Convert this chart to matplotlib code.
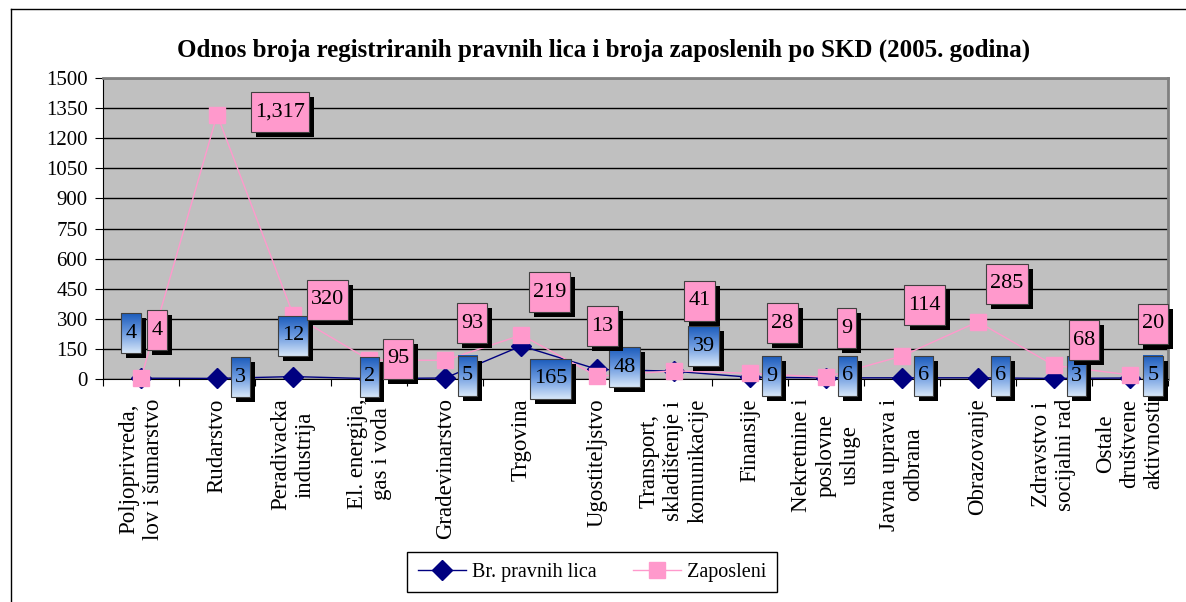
import numpy as np
import matplotlib
matplotlib.use("Agg")
import matplotlib.pyplot as plt
from matplotlib.patches import Rectangle
from matplotlib.lines import Line2D
from matplotlib.colors import LinearSegmentedColormap
from matplotlib.transforms import Bbox, TransformedBbox

plt.rcParams['font.family'] = ['Liberation Serif', 'DejaVu Serif']

naslov = "Odnos broja registriranih pravnih lica i broja zaposlenih po SKD (2005. godina)"
kategorije = ["Poljoprivreda,\nlov i šumarstvo", "Rudarstvo", "Peradivacka\nindustrija",
              "El. energija,\ngas i voda", "Gradevinarstvo", "Trgovina", "Ugostiteljstvo",
              "Transport,\nskladištenje i\nkomunikacije", "Finansije",
              "Nekretnine i\nposlovne\nusluge", "Javna uprava i\nodbrana", "Obrazovanje",
              "Zdravstvo i\nsocijalni rad", "Ostale\ndruštvene\naktivnosti"]
pravna_lica = [4, 3, 12, 2, 5, 165, 48, 39, 9, 6, 6, 6, 3, 5]
zaposleni = [4, 1317, 320, 95, 93, 219, 13, 41, 28, 9, 114, 285, 68, 20]
y_ticks = list(range(0, 1501, 150))

# where Excel put the data labels, pixels from the point (right, down)
off_pravna = [(-10, -45), (23, -1), (0, -41), (0, -2), (22, -2), (29, 33), (27, -2),
              (30, -25), (22, -1), (22, -2), (22, -2), (23, -2), (23, -2), (23, -2)]
off_zap = [(16, -48), (63, -3), (34, -15), (29, -1), (27, -37), (28, -43), (5, -50),
           (26, -70), (33, -50), (21, -49), (23, -51), (29, -38), (30, -25), (23, -51)]

W, H = 1186, 602
fig = plt.figure(figsize=(W / 100, H / 100), dpi=100)
ax = fig.add_axes([103 / W, 1 - 379 / H, 1065 / W, 301 / H])
ax.set_facecolor('#c0c0c0')

x = np.arange(len(kategorije))
ax.plot(x, pravna_lica, color='#000080', lw=1, marker='D', ms=10,
        label='Br. pravnih lica', zorder=3, clip_on=False)
ax.plot(x, zaposleni, color='#ff99cc', lw=1, marker='s', ms=11,
        label='Zaposleni', zorder=3.1, clip_on=False)

ax.set_xlim(-0.5, len(kategorije) - 0.5)
ax.set_ylim(0, 1500)
ax.set_yticks(y_ticks)
ax.yaxis.grid(True, color='black', lw=1)
ax.set_axisbelow(True)
ax.tick_params(axis='y', labelsize=15, length=6, pad=5)

ax.set_xticks(np.arange(-0.5, len(kategorije), 1))
ax.tick_params(axis='x', which='major', length=5, labelbottom=False)
ax.set_xticks(x, kategorije, minor=True)
ax.tick_params(axis='x', which='minor', length=0, pad=14, labelsize=16.5, labelrotation=90)
clip = TransformedBbox(Bbox([[0, 0], [1169 / W, 1]]), fig.transFigure)
for t in ax.get_xticklabels(minor=True):
    t.set_ha('center')
    t.set_va('top')
    t.set_multialignment('center')
    t.set_clip_box(clip)
    t.set_clip_on(True)

for s in ['left', 'bottom']:
    ax.spines[s].set_color('black')
for s in ['top', 'right']:
    ax.spines[s].set_color('#808080')
    ax.spines[s].set_linewidth(2)

fig.text(604 / W, 1 - 50 / H, naslov, ha='center', va='center',
         fontsize=18, fontweight='bold')

fig.add_artist(Line2D([10.5 / W, 10.5 / W], [0, 1 - 9 / H], color='black', lw=1))
fig.add_artist(Line2D([10.5 / W, 1], [1 - 9 / H, 1 - 9 / H], color='black', lw=1))

fig.legend(loc='center', bbox_to_anchor=(592 / W, 1 - 572 / H), ncol=2,
           fancybox=False, edgecolor='black', fontsize=14.5, handlelength=2.4,
           handletextpad=0.3, columnspacing=1.8, borderpad=0.5, framealpha=1)

# data labels: boxes with black shadow, drawn in pixels then mapped to data
fig.canvas.draw()
renderer = fig.canvas.get_renderer()
inv = ax.transData.inverted()
blues = LinearSegmentedColormap.from_list('b', ['#1c5cbc', '#6d9be0', '#d6e6f8'])
grad = np.linspace(0, 1, 64).reshape(-1, 1)


def data_label(i, v, text, off, z, face=None):
    px, py = ax.transData.transform((i, v))
    cx, cy = px + off[0], py - off[1]
    xd, yd = inv.transform((cx, cy))
    t = ax.text(xd, yd, text, ha='center', va='center', fontsize=16,
                zorder=z + 0.3, clip_on=False)
    w = t.get_window_extent(renderer).width + 8
    h = 40
    (x0, y0), (x1, y1) = inv.transform([(cx - w / 2, cy - h / 2), (cx + w / 2, cy + h / 2)])
    (sx0, sy0), (sx1, sy1) = inv.transform([(cx - w / 2 + 5, cy - h / 2 - 5),
                                            (cx + w / 2 + 5, cy + h / 2 - 5)])
    ax.add_patch(Rectangle((sx0, sy0), sx1 - sx0, sy1 - sy0, facecolor='black',
                           edgecolor='none', zorder=z, clip_on=False))
    if face is None:
        ax.imshow(grad, cmap=blues, extent=[x0, x1, y0, y1], aspect='auto',
                  interpolation='bilinear', zorder=z + 0.1, clip_on=False)
        ax.add_patch(Rectangle((x0, y0), x1 - x0, y1 - y0, fill=False,
                               edgecolor='#404040', lw=0.8, zorder=z + 0.2, clip_on=False))
    else:
        ax.add_patch(Rectangle((x0, y0), x1 - x0, y1 - y0, facecolor=face,
                               edgecolor='#404040', lw=0.8, zorder=z + 0.1, clip_on=False))


for i, v in enumerate(pravna_lica):
    data_label(i, v, f"{v:,}", off_pravna[i], 5)
for i, v in enumerate(zaposleni):
    data_label(i, v, f"{v:,}", off_zap[i], 6, face='#ff99cc')

ax.set_xlim(-0.5, len(kategorije) - 0.5)
ax.set_ylim(0, 1500)

fig.savefig('out.png', dpi=100)
